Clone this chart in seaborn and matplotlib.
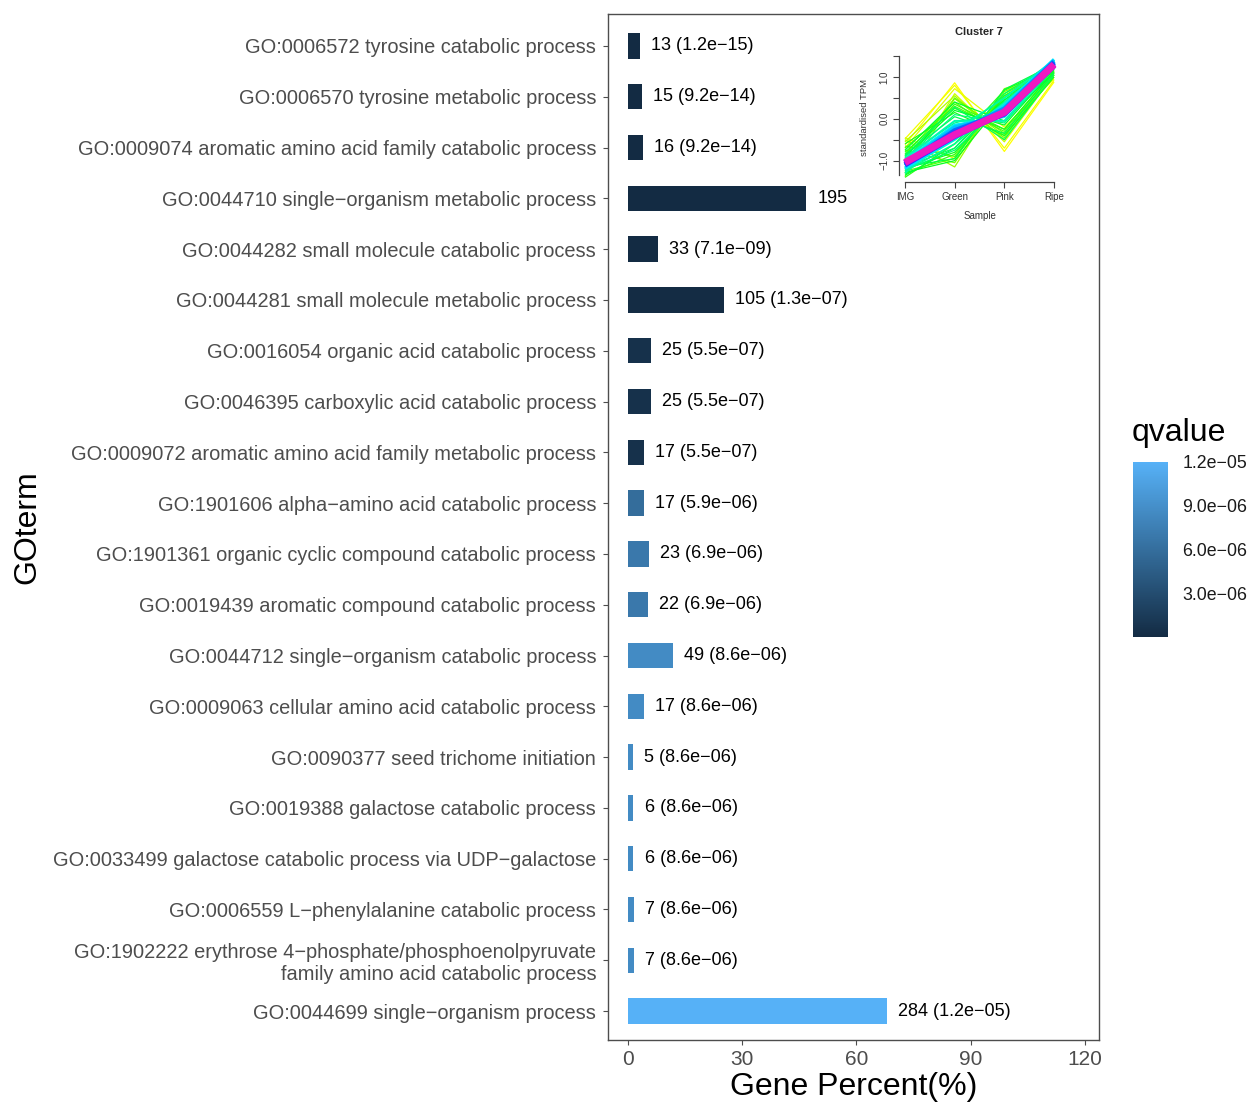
import numpy as np
import pandas as pd
import matplotlib
matplotlib.use("Agg")
import matplotlib.pyplot as plt
import seaborn as sns
from matplotlib.colors import LinearSegmentedColormap, Normalize
from matplotlib.cm import ScalarMappable

MINUS = "\u2212"

# ---- GO enrichment results (top to bottom) ----
go_terms = [
    "GO:0006572 tyrosine catabolic process",
    "GO:0006570 tyrosine metabolic process",
    "GO:0009074 aromatic amino acid family catabolic process",
    "GO:0044710 single-organism metabolic process",
    "GO:0044282 small molecule catabolic process",
    "GO:0044281 small molecule metabolic process",
    "GO:0016054 organic acid catabolic process",
    "GO:0046395 carboxylic acid catabolic process",
    "GO:0009072 aromatic amino acid family metabolic process",
    "GO:1901606 alpha-amino acid catabolic process",
    "GO:1901361 organic cyclic compound catabolic process",
    "GO:0019439 aromatic compound catabolic process",
    "GO:0044712 single-organism catabolic process",
    "GO:0009063 cellular amino acid catabolic process",
    "GO:0090377 seed trichome initiation",
    "GO:0019388 galactose catabolic process",
    "GO:0033499 galactose catabolic process via UDP-galactose",
    "GO:0006559 L-phenylalanine catabolic process",
    "GO:1902222 erythrose 4-phosphate/phosphoenolpyruvate\nfamily amino acid catabolic process",
    "GO:0044699 single-organism process",
]
gene_counts = [13, 15, 16, 195, 33, 105, 25, 25, 17, 17,
               23, 22, 49, 17, 5, 6, 6, 7, 7, 284]
qvalues = [1.2e-15, 9.2e-14, 9.2e-14, 3.0e-11, 7.1e-09, 1.3e-07, 5.5e-07, 5.5e-07, 5.5e-07, 5.9e-06,
           6.9e-06, 6.9e-06, 8.6e-06, 8.6e-06, 8.6e-06, 8.6e-06, 8.6e-06, 8.6e-06, 8.6e-06, 1.2e-05]
qvalue_labels = ["1.2e-15", "9.2e-14", "9.2e-14", None, "7.1e-09", "1.3e-07", "5.5e-07", "5.5e-07",
                 "5.5e-07", "5.9e-06", "6.9e-06", "6.9e-06", "8.6e-06", "8.6e-06", "8.6e-06",
                 "8.6e-06", "8.6e-06", "8.6e-06", "8.6e-06", "1.2e-05"]
total_genes = 417
qvalue_ticks = [3.0e-06, 6.0e-06, 9.0e-06, 1.2e-05]

# ---- cluster 7 expression profiles (standardised TPM) ----
samples = ["IMG", "Green", "Pink", "Ripe"]
profile_img = [-0.62, -0.48, -0.70, -0.45, -1.30, -0.55, -0.50, -1.38, -0.75, -0.85, -1.25, -0.70,
               -1.32, -0.80, -1.20, -0.90, -1.35, -0.85, -1.15, -0.95, -1.25, -0.95, -1.20, -1.00,
               -1.18, -1.05, -1.12, -1.08, -1.10, -1.05, -1.06, -1.04,
               -1.10, -0.65, -1.00, -1.40, -0.60, -1.28, -0.75, -1.15, -0.88, -1.22, -0.90, -1.30]
profile_green = [0.86, 0.80, 0.72, -0.95, 0.60, 0.55, -1.15, 0.48, -1.05, 0.40, -0.95, 0.30,
                 -0.85, 0.25, -0.80, 0.20, -0.70, 0.05, -0.70, 0.10, -0.60, -0.05, -0.50, -0.15,
                 -0.45, -0.20, -0.35, -0.28, -0.42, -0.35, -0.40, -0.38,
                 0.50, -0.90, 0.35, -0.60, 0.15, -1.00, 0.40, -0.95, 0.28, -0.75, -0.10, -0.30]
profile_pink = [-0.78, -0.70, -0.20, 0.70, -0.55, -0.50, 0.72, -0.40, 0.65, -0.45, 0.60, -0.30,
                0.55, -0.25, 0.50, -0.15, 0.45, -0.35, 0.60, -0.10, 0.40, -0.05, 0.35, 0.05,
                0.30, 0.10, 0.25, 0.15, 0.18, 0.12, 0.15, 0.16,
                -0.35, 0.55, -0.25, 0.68, -0.40, 0.45, -0.05, 0.70, -0.50, 0.35, 0.20, 0.50]
profile_ripe = [0.88, 0.92, 0.95, 1.00, 1.05, 1.05, 1.10, 1.00, 1.15, 1.12, 1.20, 1.08,
                1.25, 1.15, 1.22, 1.18, 1.30, 1.10, 1.35, 1.20, 1.38, 1.25, 1.40, 1.28,
                1.42, 1.32, 1.38, 1.35, 1.33, 1.30, 1.28, 1.30,
                1.05, 1.15, 1.12, 1.25, 1.00, 1.18, 1.10, 1.30, 1.05, 1.28, 1.20, 1.40]
membership = [0.30, 0.32, 0.34, 0.36, 0.38, 0.42, 0.44, 0.46, 0.48, 0.50, 0.52, 0.54,
              0.56, 0.58, 0.60, 0.62, 0.64, 0.66, 0.68, 0.70, 0.72, 0.74, 0.76, 0.78,
              0.80, 0.82, 0.85, 0.88, 0.90, 0.93, 0.96, 0.99,
              0.50, 0.52, 0.55, 0.57, 0.59, 0.61, 0.63, 0.65, 0.67, 0.69, 0.71, 0.73]

# ---- styling ----
sns.set_theme(style="white")
plt.rcParams["font.family"] = ["Liberation Sans", "DejaVu Sans"]
plt.rcParams["axes.unicode_minus"] = True

W, H = 1252, 1104
fig = plt.figure(figsize=(W / 100, H / 100), dpi=100)
fig.patch.set_facecolor("white")


def fx(px):
    return px / W


def fy(py):
    return 1 - py / H


q_cmap = LinearSegmentedColormap.from_list("qvalue", ["#132B43", "#56B1F7"])
q_norm = Normalize(vmin=min(qvalues), vmax=max(qvalues))

df = pd.DataFrame({
    "GOterm": [t.replace("-", MINUS) for t in go_terms],
    "percent": np.array(gene_counts) / total_genes * 100,
    "qvalue": qvalues,
})
palette = {t: q_cmap(q_norm(q)) for t, q in zip(df["GOterm"], df["qvalue"])}

ax = fig.add_axes([fx(608), fy(1040), fx(1099) - fx(608), fy(14) - fy(1040)])
sns.barplot(data=df, y="GOterm", x="percent", hue="GOterm", palette=palette,
            order=list(df["GOterm"]), width=0.5, saturation=1, legend=False,
            linewidth=0, ax=ax)

ax.set_xlim(-5.25, 123.7)
ax.set_ylim(len(df) - 0.43, -0.63)
ax.set_xticks([0, 30, 60, 90, 120])
ax.set_xticklabels(["0", "30", "60", "90", "120"])

for i, (pct, n, ql) in enumerate(zip(df["percent"], gene_counts, qvalue_labels)):
    label = f"{n}" if ql is None else f"{n} ({ql.replace('-', MINUS)})"
    ax.annotate(label, xy=(pct, i), xytext=(8, 0), textcoords="offset points",
                va="center", ha="left", fontsize=13, color="black")

for side in ["top", "right", "bottom", "left"]:
    ax.spines[side].set_visible(True)
    ax.spines[side].set_color("#4d4d4d")
    ax.spines[side].set_linewidth(1.0)
ax.tick_params(axis="y", which="major", left=True, length=3.5, width=0.8, color="#4d4d4d",
               labelsize=14.4, labelcolor="#4d4d4d", pad=5)
ax.tick_params(axis="x", which="major", bottom=True, length=3.5, width=0.8, color="#4d4d4d",
               labelsize=15, labelcolor="#4d4d4d", pad=4)
ax.grid(False)

ax.set_xlabel("Gene Percent(%)", fontsize=23, color="black")
ax.xaxis.set_label_coords(0.5, (1040 - 1087) / 1026)
ax.xaxis.label.set_va("center")
ax.set_ylabel("GOterm", fontsize=23, color="black")
ax.yaxis.set_label_coords((27 - 608) / 491, (1040 - 527) / 1026)
ax.yaxis.label.set_va("center")

# ---- qvalue colour bar ----
cax = fig.add_axes([fx(1133), fy(637), fx(1168) - fx(1133), fy(462) - fy(637)])
cb = fig.colorbar(ScalarMappable(norm=q_norm, cmap=q_cmap), cax=cax)
cb.outline.set_visible(False)
cb.set_ticks(qvalue_ticks)
cb.set_ticklabels([f"{t:.1e}".replace("-", MINUS) for t in qvalue_ticks])
cax.tick_params(axis="y", left=True, right=True, labelleft=False, labelright=True,
                direction="in", length=6, width=0.8, color="white",
                labelsize=12.8, labelcolor="#1a1a1a", pad=10.5)
fig.text(fx(1132), fy(433), "qvalue", fontsize=23, ha="left", va="center", color="black")

# ---- cluster 7 inset ----
iax = fig.add_axes([fx(899), fy(182), fx(1060) - fx(899), fy(53.5) - fy(182)])
iax.set_facecolor("none")
prof_cmap = LinearSegmentedColormap.from_list(
    "membership",
    [(0.00, "#FFFF00"), (0.12, "#C8FF00"), (0.28, "#6EFF00"), (0.45, "#00FF1E"),
     (0.60, "#00FF8C"), (0.70, "#00F0FF"), (0.80, "#0090FF"), (0.87, "#2030FF"),
     (0.93, "#A000FF"), (1.00, "#FF1EB4")])
x_pos = np.arange(1, len(samples) + 1)
order = np.argsort(membership, kind="stable")
for k in order:
    m = membership[k]
    vals = [profile_img[k], profile_green[k], profile_pink[k], profile_ripe[k]]
    lw = 0.9 if m < 0.72 else 1.2 + (m - 0.72) * 14
    iax.plot(x_pos, vals, color=prof_cmap((m - 0.3) / 0.7), lw=lw,
             solid_joinstyle="round", solid_capstyle="butt")

iax.set_xlim(0.88, 4.12)
iax.set_ylim(-1.51, 1.56)
for side in ["top", "right"]:
    iax.spines[side].set_visible(False)
for side in ["left", "bottom"]:
    iax.spines[side].set_visible(True)
    iax.spines[side].set_color("#444444")
    iax.spines[side].set_linewidth(0.9)
iax.spines["bottom"].set_bounds(1, 4)
iax.spines["left"].set_bounds(-1.35, 1.5)
iax.set_xticks(x_pos)
iax.set_xticklabels(samples)
iax.set_yticks([-1.0, -0.5, 0.0, 0.5, 1.0, 1.5])
iax.set_yticklabels(["-1.0".replace("-", MINUS), "", "0.0", "", "1.0", ""])
iax.tick_params(axis="both", bottom=True, left=True, length=4, width=0.8, color="#444444",
                labelsize=7, labelcolor="#333333", pad=3)
for lab in iax.get_yticklabels():
    lab.set_rotation(90)
    lab.set_va("center")
iax.grid(False)
fig.text(fx(979), fy(32), "Cluster 7", fontsize=8, fontweight="bold", ha="center", va="center")
fig.text(fx(865), fy(118), "standardised TPM", fontsize=6.8, rotation=90,
         ha="center", va="center", color="#333333")
fig.text(fx(980), fy(216), "Sample", fontsize=7, ha="center", va="center", color="#333333")

fig.savefig("out.png", dpi=100, facecolor="white")
